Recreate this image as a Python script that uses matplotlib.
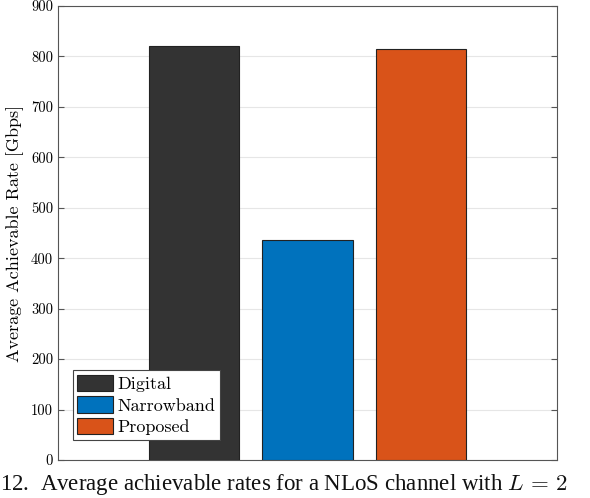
import matplotlib
matplotlib.use("Agg")
import matplotlib.pyplot as plt

categories = ["Digital", "Narrowband", "Proposed"]
rates = [820, 437, 815]
colors = ["#333333", "#0072BD", "#D95319"]
yticks = [0, 100, 200, 300, 400, 500, 600, 700, 800, 900]

plt.rcParams['font.family'] = ['cmr10', 'DejaVu Serif']
plt.rcParams['mathtext.fontset'] = 'cm'
plt.rcParams['axes.formatter.use_mathtext'] = True

fig = plt.figure(figsize=(5.9, 4.98), dpi=100)
ax = fig.add_axes([58/590, 38/498, (557-58)/590, (460-6)/498])

pos = [0, 1, 2]
for p, v, c, lab in zip(pos, rates, colors, categories):
    ax.bar(p, v, width=0.8, color=c, edgecolor="#222222", linewidth=0.8, label=lab, zorder=3)

ax.set_xlim(-1.2, 3.2)
ax.set_ylim(0, 900)
ax.set_yticks(yticks)
ax.set_yticklabels([str(t) for t in yticks], fontsize=10.5)
ax.set_xticks([])
ax.yaxis.grid(True, color="#e6e6e6", linewidth=0.8, zorder=0)
ax.tick_params(axis='y', direction='in', length=4, color="#555555", right=True)
for s in ax.spines.values():
    s.set_color("#555555")
    s.set_linewidth(0.8)
ax.set_ylabel("Average Achievable Rate [Gbps]", fontsize=13, labelpad=5)

leg = ax.legend(loc="lower left", bbox_to_anchor=(0.03, 0.045), fontsize=13,
                frameon=True, fancybox=False, edgecolor="#444444", framealpha=1,
                handlelength=1.95, handleheight=1.05, handletextpad=0.25,
                labelspacing=0.22, borderpad=0.25, borderaxespad=0)
leg.get_frame().set_linewidth(0.8)

fig.text(0.0, 0.003, "12.  Average achievable rates for a NLoS channel with $L\\,=\\,2$",
         fontsize=16.5, family="Liberation Serif", ha="left", va="bottom", color="#111111")

fig.savefig("out.png", dpi=100)
